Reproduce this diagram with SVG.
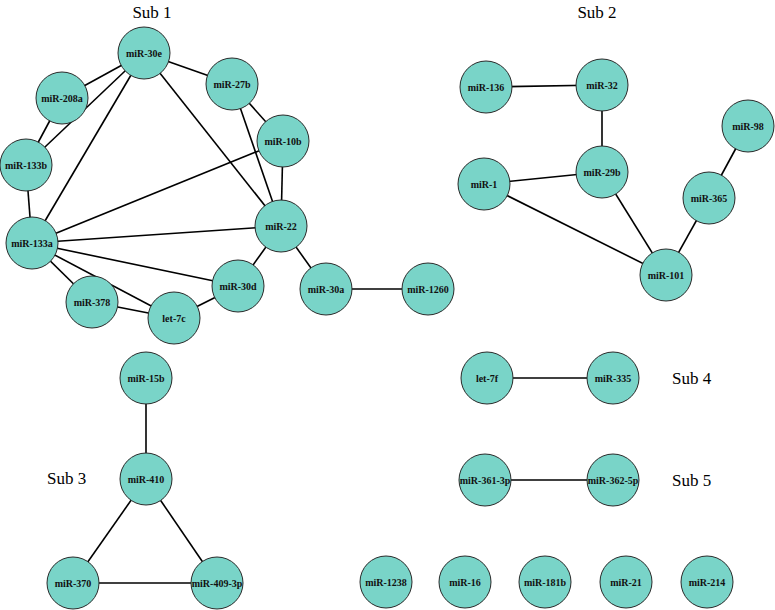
<svg xmlns="http://www.w3.org/2000/svg" width="775" height="610" viewBox="0 0 775 610">
<style>
.n circle{fill:#79D4C8;stroke:#2a2a2a;stroke-width:1}
.n text{font-family:"Liberation Serif",serif;font-size:10px;font-weight:bold;fill:#111;text-anchor:middle;dominant-baseline:central}
.e line{stroke:#000;stroke-width:1.6}
.lbl{font-family:"Liberation Serif",serif;font-size:17px;fill:#000}
</style>
<rect width="775" height="610" fill="#fff"/>
<g id="connectors" class="e">
<line x1="144" y1="53" x2="62" y2="98"/>
<line x1="144" y1="53" x2="232" y2="84"/>
<line x1="144" y1="53" x2="26" y2="165"/>
<line x1="144" y1="53" x2="32" y2="243"/>
<line x1="144" y1="53" x2="281" y2="226"/>
<line x1="62" y1="98" x2="26" y2="165"/>
<line x1="232" y1="84" x2="283" y2="141"/>
<line x1="232" y1="84" x2="281" y2="226"/>
<line x1="283" y1="141" x2="281" y2="226"/>
<line x1="283" y1="141" x2="32" y2="243"/>
<line x1="26" y1="165" x2="32" y2="243"/>
<line x1="32" y1="243" x2="281" y2="226"/>
<line x1="32" y1="243" x2="238" y2="286"/>
<line x1="32" y1="243" x2="174" y2="318"/>
<line x1="32" y1="243" x2="92" y2="302"/>
<line x1="92" y1="302" x2="174" y2="318"/>
<line x1="174" y1="318" x2="238" y2="286"/>
<line x1="238" y1="286" x2="281" y2="226"/>
<line x1="281" y1="226" x2="326" y2="289"/>
<line x1="326" y1="289" x2="428" y2="289"/>
<line x1="486" y1="87" x2="602" y2="85"/>
<line x1="602" y1="85" x2="602" y2="172"/>
<line x1="484" y1="184" x2="602" y2="172"/>
<line x1="484" y1="184" x2="666" y2="275"/>
<line x1="602" y1="172" x2="666" y2="275"/>
<line x1="709" y1="198" x2="666" y2="275"/>
<line x1="748" y1="126" x2="709" y2="198"/>
<line x1="146" y1="378" x2="146" y2="479"/>
<line x1="146" y1="479" x2="73" y2="583"/>
<line x1="146" y1="479" x2="217" y2="583"/>
<line x1="73" y1="583" x2="217" y2="583"/>
<line x1="487" y1="378" x2="613" y2="378"/>
<line x1="485" y1="480" x2="613" y2="480"/>
</g>
<g id="miR-30e" class="n"><circle cx="144" cy="53" r="26"/><text x="144" y="53">miR-30e</text></g>
<g id="miR-27b" class="n"><circle cx="232" cy="84" r="26"/><text x="232" y="84">miR-27b</text></g>
<g id="miR-208a" class="n"><circle cx="62" cy="98" r="26"/><text x="62" y="98">miR-208a</text></g>
<g id="miR-133b" class="n"><circle cx="26" cy="165" r="26"/><text x="26" y="165">miR-133b</text></g>
<g id="miR-10b" class="n"><circle cx="283" cy="141" r="26"/><text x="283" y="141">miR-10b</text></g>
<g id="miR-133a" class="n"><circle cx="32" cy="243" r="26"/><text x="32" y="243">miR-133a</text></g>
<g id="miR-22" class="n"><circle cx="281" cy="226" r="26"/><text x="281" y="226">miR-22</text></g>
<g id="miR-378" class="n"><circle cx="92" cy="302" r="26"/><text x="92" y="302">miR-378</text></g>
<g id="let-7c" class="n"><circle cx="174" cy="318" r="26"/><text x="174" y="318">let-7c</text></g>
<g id="miR-30d" class="n"><circle cx="238" cy="286" r="26"/><text x="238" y="286">miR-30d</text></g>
<g id="miR-30a" class="n"><circle cx="326" cy="289" r="26"/><text x="326" y="289">miR-30a</text></g>
<g id="miR-1260" class="n"><circle cx="428" cy="289" r="26"/><text x="428" y="289">miR-1260</text></g>
<g id="miR-136" class="n"><circle cx="486" cy="87" r="26"/><text x="486" y="87">miR-136</text></g>
<g id="miR-32" class="n"><circle cx="602" cy="85" r="26"/><text x="602" y="85">miR-32</text></g>
<g id="miR-98" class="n"><circle cx="748" cy="126" r="26"/><text x="748" y="126">miR-98</text></g>
<g id="miR-29b" class="n"><circle cx="602" cy="172" r="26"/><text x="602" y="172">miR-29b</text></g>
<g id="miR-1" class="n"><circle cx="484" cy="184" r="26"/><text x="484" y="184">miR-1</text></g>
<g id="miR-365" class="n"><circle cx="709" cy="198" r="26"/><text x="709" y="198">miR-365</text></g>
<g id="miR-101" class="n"><circle cx="666" cy="275" r="26"/><text x="666" y="275">miR-101</text></g>
<g id="miR-15b" class="n"><circle cx="146" cy="378" r="26"/><text x="146" y="378">miR-15b</text></g>
<g id="miR-410" class="n"><circle cx="146" cy="479" r="26"/><text x="146" y="479">miR-410</text></g>
<g id="miR-370" class="n"><circle cx="73" cy="583" r="26"/><text x="73" y="583">miR-370</text></g>
<g id="miR-409-3p" class="n"><circle cx="217" cy="583" r="26"/><text x="217" y="583">miR-409-3p</text></g>
<g id="let-7f" class="n"><circle cx="487" cy="378" r="26"/><text x="487" y="378">let-7f</text></g>
<g id="miR-335" class="n"><circle cx="613" cy="378" r="26"/><text x="613" y="378">miR-335</text></g>
<g id="miR-361-3p" class="n"><circle cx="485" cy="480" r="26"/><text x="485" y="480">miR-361-3p</text></g>
<g id="miR-362-5p" class="n"><circle cx="613" cy="480" r="26"/><text x="613" y="480">miR-362-5p</text></g>
<g id="miR-1238" class="n"><circle cx="386" cy="582" r="26"/><text x="386" y="582">miR-1238</text></g>
<g id="miR-16" class="n"><circle cx="465" cy="582" r="26"/><text x="465" y="582">miR-16</text></g>
<g id="miR-181b" class="n"><circle cx="545" cy="582" r="26"/><text x="545" y="582">miR-181b</text></g>
<g id="miR-21" class="n"><circle cx="626" cy="582" r="26"/><text x="626" y="582">miR-21</text></g>
<g id="miR-214" class="n"><circle cx="707" cy="582" r="26"/><text x="707" y="582">miR-214</text></g>
<text class="lbl" x="152" y="18" text-anchor="middle">Sub 1</text>
<text class="lbl" x="597" y="18" text-anchor="middle">Sub 2</text>
<text class="lbl" x="47" y="484">Sub 3</text>
<text class="lbl" x="672" y="384">Sub 4</text>
<text class="lbl" x="672" y="486">Sub 5</text>
</svg>
